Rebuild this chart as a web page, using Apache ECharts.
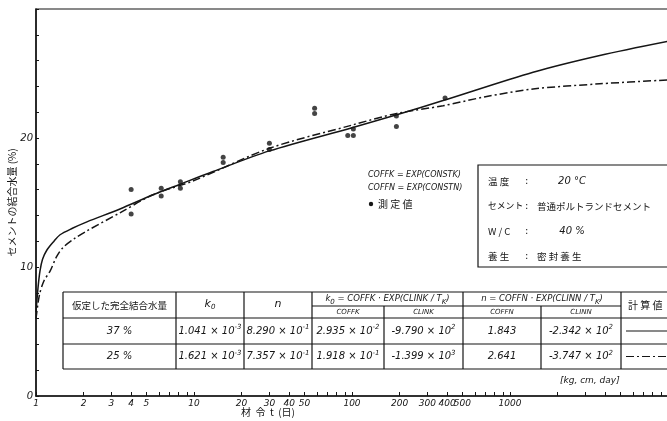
<!DOCTYPE html>
<html lang="ja">
<head>
<meta charset="UTF-8">
<title>セメントの結合水量</title>
<style>
  html, body { margin: 0; padding: 0; background: #fff; }
  #main { width: 667px; height: 421px; }
</style>
</head>
<body>
<div id="main"></div>
<script src="https://cdn.jsdelivr.net/npm/echarts@6/dist/echarts.min.js"></script>
<script>
// 計算値 37% (実線)  [材令 t (日), 結合水量 %]
var calc37 = [[1, 6.5], [1.03, 8.4], [1.06, 9.7], [1.1, 10.6], [1.17, 11.3], [1.3, 12.0], [1.42, 12.5],
  [1.7, 13.0], [2.1, 13.5], [3.4, 14.5], [5.5, 15.6], [8.1, 16.4], [13.2, 17.4], [30, 19.0],
  [100, 20.8], [192, 21.8], [377, 22.9], [1400, 25.1], [3700, 26.4], [10000, 27.5]];
// 計算値 25% (一点鎖線)
var calc25 = [[1, 6.0], [1.05, 7.8], [1.12, 8.9], [1.23, 9.7], [1.35, 10.8], [1.48, 11.5], [1.75, 12.2],
  [2.1, 12.8], [3.4, 14.2], [5.5, 15.6], [10, 16.7], [30, 19.2], [100, 21.0], [192, 21.9],
  [377, 22.5], [700, 23.2], [1400, 23.8], [3700, 24.2], [10000, 24.5]];
// 測定値
var measured = [[4, 16.0], [4, 14.1], [6.2, 16.1], [6.2, 15.5], [8.2, 16.6], [8.2, 16.1],
  [15.3, 18.5], [15.3, 18.1], [30, 19.6], [30, 19.1], [58, 22.3], [58, 21.9],
  [94, 20.2], [102, 20.2], [102, 20.7], [191, 21.7], [191, 20.9], [388, 23.1]];

var xTicks = [1, 2, 3, 4, 5, 6, 7, 8, 9, 10, 20, 30, 40, 50, 60, 70, 80, 90, 100,
  200, 300, 400, 500, 600, 700, 800, 900, 1000, 2000, 3000, 4000, 5000, 6000, 7000, 8000, 9000, 10000];
var xLabels = [1, 2, 3, 4, 5, 10, 20, 30, 40, 50, 100, 200, 300, 400, 500, 1000];

var tableHead = ['仮定した完全結合水量', 'k{b|0}', 'n'];
var formulaK = 'k{b|0} = COFFK · EXP(CLINK / T{b|K})';
var formulaN = 'n = COFFN · EXP(CLINN / T{b|K})';
var subHead = ['COFFK', 'CLINK', 'COFFN', 'CLINN'];
var tableRows = [
  ['37 %', '1.041 × 10{s|-3}', '8.290 × 10{s|-1}', '2.935 × 10{s|-2}', '-9.790 × 10{s|2}', '1.843', '-2.342 × 10{s|2}'],
  ['25 %', '1.621 × 10{s|-3}', '7.357 × 10{s|-1}', '1.918 × 10{s|-1}', '-1.399 × 10{s|3}', '2.641', '-3.747 × 10{s|2}']
];
var infoRows = [['温 度', '20 °C'], ['セメント', '普通ポルトランドセメント'], ['W / C', '40 %'], ['養 生', '密 封 養 生']];

var ink = '#151515';
var jp = '"Noto Sans CJK JP", sans-serif';
var lat = '"DejaVu Sans", sans-serif';
var rich = {
  s: { fontSize: 7, verticalAlign: 'top', fontStyle: 'italic', fontFamily: lat, fill: ink },
  b: { fontSize: 7, verticalAlign: 'bottom', fontStyle: 'italic', fontFamily: lat, fill: ink }
};

function txt(x, y, s, size, family, align, italic) {
  return {
    type: 'text', x: x, y: y, silent: true,
    style: {
      text: s, fontSize: size, fontFamily: family, fontStyle: italic ? 'italic' : 'normal',
      fill: ink, align: align || 'center', verticalAlign: 'middle', lineHeight: 14, rich: rich
    }
  };
}
function seg(x1, y1, x2, y2, dash) {
  return {
    type: 'line', silent: true, shape: { x1: x1, y1: y1, x2: x2, y2: y2 },
    style: { stroke: ink, lineWidth: 1.2, lineDash: dash || null }
  };
}

// 表
var colX = [63, 176, 244, 312, 384, 463, 541, 621, 700];
var rowY = [292, 318, 344, 369];
var subY = 306;
var g = [];
rowY.forEach(function (y) { g.push(seg(colX[0], y, colX[8], y)); });
g.push(seg(colX[3], subY, colX[7], subY));
colX.slice(0, 8).forEach(function (x, i) {
  g.push(seg(x, (i === 4 || i === 6) ? subY : rowY[0], x, rowY[3]));
});
g.push(txt((colX[0] + colX[1]) / 2, 305, tableHead[0], 9.5, jp));
g.push(txt((colX[1] + colX[2]) / 2, 304, tableHead[1], 11, lat, 'center', true));
g.push(txt((colX[2] + colX[3]) / 2, 304, tableHead[2], 11, lat, 'center', true));
g.push(txt((colX[3] + colX[5]) / 2, 299, formulaK, 8.5, lat, 'center', true));
g.push(txt((colX[5] + colX[7]) / 2, 299, formulaN, 8.5, lat, 'center', true));
subHead.forEach(function (s, i) {
  g.push(txt((colX[3 + i] + colX[4 + i]) / 2, 312, s, 7, lat, 'center', true));
});
g.push(txt(628, 305, '計 算 値', 10, jp, 'left'));
tableRows.forEach(function (r, j) {
  var y = (rowY[j + 1] + rowY[j + 2]) / 2;
  r.forEach(function (s, i) {
    g.push(txt((colX[i] + colX[i + 1]) / 2, y, s, 10, lat, 'center', true));
  });
  g.push(seg(626, y, 680, y, j === 0 ? null : [8, 3, 2, 3]));
});
g.push(txt(560, 381, '[kg, cm, day]', 9, lat, 'left', true));

// 注記
g.push(txt(368, 175, 'COFFK = EXP(CONSTK)', 8, lat, 'left', true));
g.push(txt(368, 188, 'COFFN = EXP(CONSTN)', 8, lat, 'left', true));
g.push({ type: 'circle', silent: true, shape: { cx: 371, cy: 204, r: 2.2 }, style: { fill: ink } });
g.push(txt(378, 204, '測 定 値', 10, jp, 'left'));

// 条件の枠
g.push({ type: 'rect', silent: true, shape: { x: 478, y: 165, width: 240, height: 102 },
  style: { fill: '#fff', stroke: ink, lineWidth: 1.2 } });
infoRows.forEach(function (r, i) {
  var y = 181 + i * 25;
  g.push(txt(488, y, r[0], i === 1 ? 8.8 : 9.5, jp, 'left'));
  g.push(txt(525, y, ':', 10, lat, 'left'));
  if (i === 0 || i === 2) g.push(txt(572, y, r[1], 10, lat, 'center', true));
  else g.push(txt(537, y, r[1], 9.5, jp, 'left'));
});

g.push(txt(268, 412, '材  令  t  (日)', 10, jp));

var chart = echarts.init(document.getElementById('main'));
chart.setOption({
  animation: false,
  backgroundColor: '#fff',
  grid: { left: 36, right: -1, top: 9, bottom: 25, outerBoundsMode: 'none', containLabel: false,
    show: true, borderColor: ink, borderWidth: 1.2 },
  xAxis: {
    type: 'log', logBase: 10, min: 1, max: 10000,
    axisLine: { lineStyle: { color: ink, width: 1.5 } },
    axisTick: { inside: true, length: 4, customValues: xTicks, lineStyle: { color: ink } },
    axisLabel: { customValues: xLabels, color: ink, fontSize: 9, fontStyle: 'italic', fontFamily: lat, margin: 3,
      formatter: function (v) { return String(v); } },
    splitLine: { show: false }
  },
  yAxis: {
    type: 'value', min: 0, max: 30, interval: 2,
    name: 'セメントの結合水量 (%)', nameLocation: 'middle', nameRotate: 90, nameGap: 19, nameMoveOverlap: false,
    nameTextStyle: { color: ink, fontSize: 10, fontFamily: jp },
    axisLine: { show: true, lineStyle: { color: ink, width: 1.5 } },
    axisTick: { show: true, inside: true, length: 3, lineStyle: { color: ink } },
    axisLabel: {
      color: ink, fontSize: 10, fontStyle: 'italic', fontFamily: lat, margin: 3,
      formatter: function (v) { return (v % 10 === 0 && v < 30) ? v : ''; }
    },
    splitLine: { show: false }
  },
  series: [
    { type: 'line', data: calc37, smooth: 0.3, showSymbol: false, lineStyle: { color: ink, width: 1.5 } },
    { type: 'line', data: calc25, smooth: 0.3, showSymbol: false, lineStyle: { color: ink, width: 1.5, type: [8, 3, 2, 3] } },
    { type: 'scatter', data: measured, symbolSize: 5, itemStyle: { color: ink } }
  ],
  graphic: g
});
</script>
</body>
</html>
